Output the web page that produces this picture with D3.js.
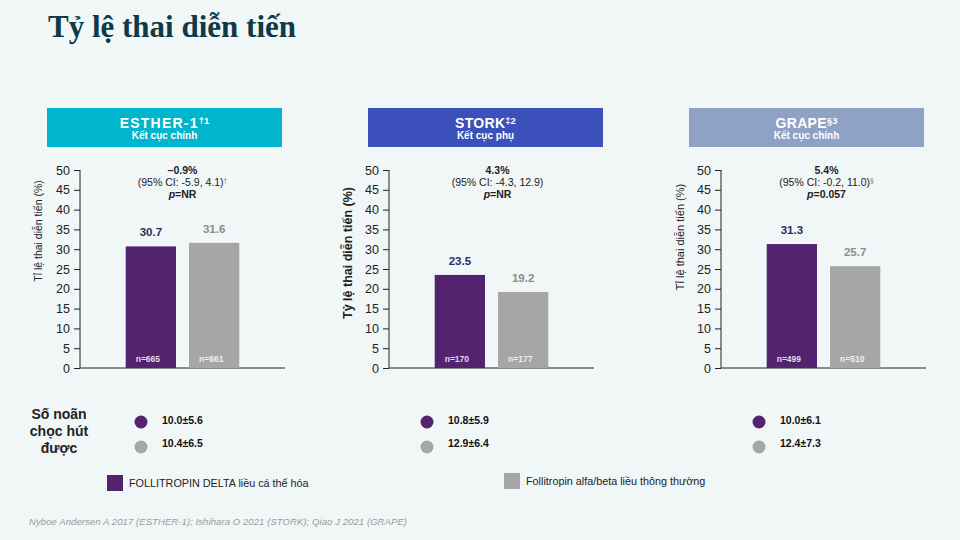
<!DOCTYPE html>
<html>
<head>
<meta charset="utf-8">
<script src="https://cdn.jsdelivr.net/npm/d3@7.9.0/dist/d3.min.js"></script>
<style>
  html, body { margin: 0; padding: 0; background: #f1f6f7; }
  svg { display: block; }
  text { font-family: "Liberation Sans", Arial, sans-serif; }
</style>
</head>
<body>
<svg id="chart" width="960" height="540"></svg>
<script>
// data
const studies = ["ESTHER-1", "STORK", "GRAPE"];
const studySup = ["†1", "‡2", "§3"];
const outcomes = ["Kết cục chính", "Kết cục phụ", "Kết cục chính"];
const groups = ["delta", "alfa"];
const deltaRate = [30.7, 23.5, 31.3];
const alfaRate = [31.6, 19.2, 25.7];
const deltaN = [665, 170, 499];
const alfaN = [661, 177, 510];
const diffText = ["–0.9%", "4.3%", "5.4%"];
const ciText = ["(95% CI: -5.9, 4.1)", "(95% CI: -4.3, 12.9)", "(95% CI: -0.2, 11.0)"];
const ciSup = ["†", "", "§"];
const pText = ["NR", "NR", "0.057"];
const oocDelta = ["10.0±5.6", "10.8±5.9", "10.0±6.1"];
const oocAlfa = ["10.4±6.5", "12.9±6.4", "12.4±7.3"];
const yTitles = ["Tỉ lệ thai diễn tiến (%)", "Tỷ lệ thai diễn tiến (%)", "Tỉ lệ thai diễn tiến  (%)"];
const legendLabels = ["FOLLITROPIN DELTA liều cá thể hóa", "Follitropin alfa/beta liều thông thường"];

// layout
const headColors = ["#00b5cc", "#3b50bb", "#8fa1c5"];
const purple = "#53236f";
const grey = "#a6a6a6";
const axisX = [80, 389, 721];
const headX = [47, 368, 689];
const dotX = [141, 427, 759];
const yTitleX = [38, 348, 680];
const yTitleY = [231, 253, 237];
const yTitleBold = [false, true, false];
const yTitleSize = [10.5, 12.5, 11];
const annoDx = [0, 6, 3];
const plotW = 205;

const svg = d3.select("#chart");

svg.append("text")
  .attr("x", 48).attr("y", 37)
  .style("font-family", "'Liberation Serif', 'DejaVu Serif', serif")
  .style("font-weight", "bold")
  .style("font-size", "31px")
  .attr("fill", "#0e3a48")
  .text("Tỷ lệ thai diễn tiến");

const y = d3.scaleLinear().domain([0, 50]).range([368, 170]);
const x = d3.scaleBand().domain(groups).range([0, plotW])
  .paddingInner(0.206).paddingOuter(0.722);

studies.forEach((name, i) => {
  // header box
  const h = svg.append("g").attr("transform", `translate(${headX[i]},108)`);
  h.append("rect").attr("width", 235).attr("height", 39).attr("fill", headColors[i]);
  const t1 = h.append("text").attr("x", 117.5).attr("y", 19.5)
    .attr("text-anchor", "middle").attr("fill", "#fff")
    .style("font-weight", "bold").style("font-size", "14px")
    .style("letter-spacing", i === 0 ? "1.2px" : "0.3px");
  t1.append("tspan").text(name);
  t1.append("tspan").attr("dy", -4).style("font-size", "9.5px").style("letter-spacing", "0px").text(studySup[i]);
  h.append("text").attr("x", 117.5).attr("y", 31)
    .attr("text-anchor", "middle").attr("fill", "#fff")
    .style("font-weight", "bold").style("font-size", "10px")
    .text(outcomes[i]);

  const g = svg.append("g").attr("transform", `translate(${axisX[i]},0)`);

  // y axis
  const ax = g.append("g").call(d3.axisLeft(y).ticks(10).tickSize(6).tickPadding(4));
  ax.select(".domain").attr("stroke", "#222").attr("d", "M0,170V368");
  ax.selectAll(".tick line").attr("stroke", "#222");
  ax.selectAll(".tick text").style("font-size", "12.5px").attr("fill", "#222")
    .style("font-family", "'Liberation Sans', Arial, sans-serif");

  // x axis baseline
  g.append("line").attr("x1", 0).attr("x2", plotW).attr("y1", y(0)).attr("y2", y(0))
    .attr("stroke", "#222");

  // y title
  svg.append("text")
    .attr("transform", `translate(${yTitleX[i]},${yTitleY[i]}) rotate(-90)`)
    .attr("text-anchor", "middle").attr("dy", "0.35em")
    .attr("fill", "#222")
    .style("font-weight", yTitleBold[i] ? "bold" : "normal")
    .style("font-size", yTitleSize[i] + "px")
    .text(yTitles[i]);

  // bars
  const vals = [deltaRate[i], alfaRate[i]];
  const ns = [deltaN[i], alfaN[i]];
  const barData = groups.map((k, j) => ({ k, v: vals[j], n: ns[j] }));

  g.selectAll("rect.bar").data(barData).join("rect")
    .attr("class", "bar")
    .attr("x", d => x(d.k)).attr("width", x.bandwidth())
    .attr("y", d => y(d.v)).attr("height", d => y(0) - y(d.v))
    .attr("fill", d => d.k === "delta" ? purple : grey);

  g.selectAll("text.val").data(barData).join("text")
    .attr("class", "val")
    .attr("x", d => x(d.k) + x.bandwidth() / 2)
    .attr("y", d => y(d.v) - 10)
    .attr("text-anchor", "middle")
    .attr("fill", d => d.k === "delta" ? "#2b2e5c" : "#8c8c8c")
    .style("font-weight", "bold").style("font-size", "11.5px")
    .text(d => d.v.toFixed(1));

  g.selectAll("text.n").data(barData).join("text")
    .attr("class", "n")
    .attr("x", d => x(d.k) + 10)
    .attr("y", y(0) - 6)
    .attr("fill", "#fff").attr("fill-opacity", 0.85)
    .style("font-weight", "bold").style("font-size", "8.5px")
    .text(d => "n=" + d.n);

  // difference annotation
  const cx = plotW / 2 + annoDx[i];
  g.append("text").attr("x", cx).attr("y", 174).attr("text-anchor", "middle")
    .attr("fill", "#222").style("font-weight", "bold").style("font-size", "10.5px")
    .text(diffText[i]);
  const ci = g.append("text").attr("x", cx).attr("y", 186).attr("text-anchor", "middle")
    .attr("fill", "#222").style("font-size", "10.5px");
  ci.append("tspan").text(ciText[i]);
  if (ciSup[i]) ci.append("tspan").attr("dy", -3).style("font-size", "6.5px").attr("fill", "#777").text(ciSup[i]);
  const p = g.append("text").attr("x", cx).attr("y", 198).attr("text-anchor", "middle")
    .attr("fill", "#222").style("font-weight", "bold").style("font-size", "10.5px");
  p.append("tspan").style("font-style", "italic").text("p");
  p.append("tspan").text("=" + pText[i]);

  // oocytes retrieved
  [oocDelta[i], oocAlfa[i]].forEach((s, j) => {
    const cy = j === 0 ? 422 : 447;
    svg.append("circle").attr("cx", dotX[i]).attr("cy", cy).attr("r", 6.5)
      .attr("fill", j === 0 ? purple : grey);
    svg.append("text").attr("x", dotX[i] + 21).attr("y", cy - (j === 0 ? 2 : 4)).attr("dy", "0.35em")
      .attr("fill", "#111").style("font-weight", "bold").style("font-size", "10.5px")
      .text(s);
  });
});

// row label
const rowLabel = svg.append("text").attr("text-anchor", "middle")
  .attr("fill", "#222").style("font-weight", "bold").style("font-size", "14px");
["Số noãn", "chọc hút", "được"].forEach((s, k) => {
  rowLabel.append("tspan").attr("x", 59).attr("y", 419 + k * 17).text(s);
});

// legend
const legX = [107, 504];
const legY = [475, 473];
legendLabels.forEach((s, k) => {
  svg.append("rect").attr("x", legX[k]).attr("y", legY[k]).attr("width", 16).attr("height", 16)
    .attr("fill", k === 0 ? purple : grey);
  svg.append("text").attr("x", legX[k] + 22).attr("y", legY[k] + 8).attr("dy", "0.35em")
    .attr("fill", "#222").style("font-size", "10.8px")
    .text(s);
});

// source
svg.append("text").attr("x", 29).attr("y", 525)
  .attr("fill", "#9a9a9a").style("font-style", "italic").style("font-size", "9.5px")
  .attr("textLength", 378)
  .text("Nyboe Andersen A 2017 (ESTHER-1); Ishihara O 2021 (STORK); Qiao J 2021 (GRAPE)");
</script>
</body>
</html>
